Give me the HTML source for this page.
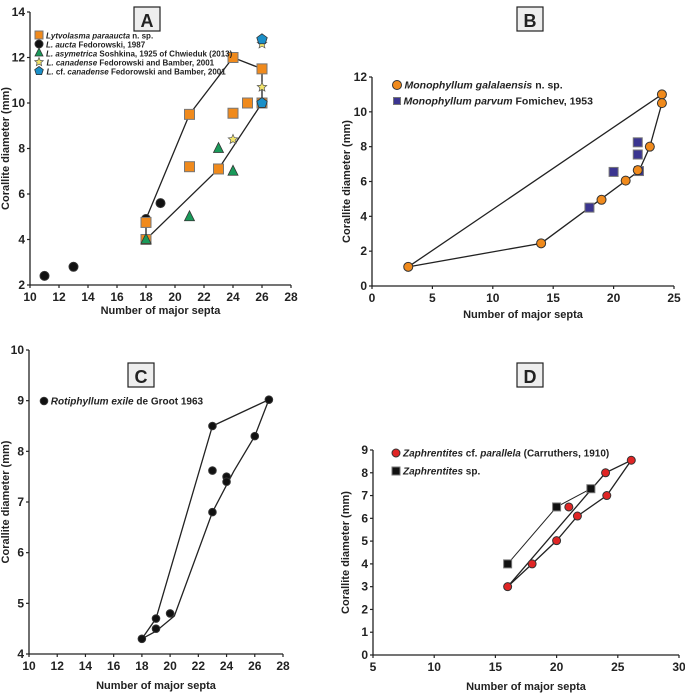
<!DOCTYPE html>
<html><head><meta charset="utf-8">
<style>
body{margin:0;background:#fff;}
svg{display:block;font-family:"Liberation Sans",sans-serif;}
text{font-weight:bold;fill:#222;}
</style></head>
<body>
<svg id="c" width="685" height="697" viewBox="0 0 685 697" xmlns="http://www.w3.org/2000/svg"></svg>
<script>
// Panel A data
const aXTicks=[10,12,14,16,18,20,22,24,26,28];
const aYTicks=[2,4,6,8,10,12,14];
const aSqX=[18,18,21,21,23,24,24,25,26,26];
const aSqY=[4.75,4,9.5,7.2,7.1,12,9.55,10,11.5,10];
const aCirX=[11,13,18,19];
const aCirY=[2.4,2.8,4.9,5.6];
const aTriX=[18,21,23,24];
const aTriY=[4,5,8,7];
const aStarX=[24,26,26];
const aStarY=[8.4,10.7,12.6];
const aPentX=[26,26];
const aPentY=[12.8,10];
const aHullX=[18,21,24,26,26,23,18,18];
const aHullY=[4.9,9.5,12,11.5,10,7.1,4,4.75];
// Panel B data
const bXTicks=[0,5,10,15,20,25];
const bYTicks=[0,2,4,6,8,10,12];
const bCirX=[3,14,19,21,22,23,24,24];
const bCirY=[1.1,2.45,4.95,6.05,6.65,8,11,10.5];
const bSqX=[18,20,22,22,22.1];
const bSqY=[4.5,6.55,8.25,7.55,6.6];
const bHullX=[3,24,24,23,22.1,14];
const bHullY=[1.1,11,10.5,8,6.6,2.45];
// Panel C data
const cXTicks=[10,12,14,16,18,20,22,24,26,28];
const cYTicks=[4,5,6,7,8,9,10];
const cCirX=[18,19,19,20,23,23,23,24,24,26,27];
const cCirY=[4.3,4.7,4.5,4.8,8.5,7.62,6.8,7.5,7.4,8.3,9.02];
const cHullX=[18,19,23,27,26,24.5,23,20.3,19];
const cHullY=[4.3,4.7,8.5,9.02,8.3,7.6,6.8,4.75,4.45];
// Panel D data
const dXTicks=[5,10,15,20,25,30];
const dYTicks=[0,1,2,3,4,5,6,7,8,9];
const dCirX=[16,18,20,21,21.7,24,24.1,26.1];
const dCirY=[3,4,5.02,6.5,6.1,8,7,8.55];
const dSqX=[16,20,22.8];
const dSqY=[4,6.5,7.3];
const dHullX=[16,24,26.1,24.1,21.7,20,18];
const dHullY=[3,8,8.55,7,6.1,5.02,4];

const svg=document.getElementById('c');
const NS='http://www.w3.org/2000/svg';
function el(tag,attrs,parent){const e=document.createElementNS(NS,tag);for(const k in attrs)e.setAttribute(k,attrs[k]);(parent||svg).appendChild(e);return e;}
function txt(x,y,s,size,anchor,parent){const t=el('text',{x:x,y:y,'font-size':size,'text-anchor':anchor||'middle'},parent);t.textContent=s;return t;}

function axes(p){
  const g=el('g',{});
  
  
  const sx=v=>p.x0+(v-p.xmin)/(p.xmax-p.xmin)*(p.x1-p.x0);
  const sy=v=>p.y0-(v-p.ymin)/(p.ymax-p.ymin)*(p.y0-p.y1);
  el('line',{x1:p.x0,y1:p.y0,x2:p.x1,y2:p.y0,stroke:'#222','stroke-width':1.3},g);
  el('line',{x1:p.x0,y1:p.y0,x2:p.x0,y2:p.y1,stroke:'#222','stroke-width':1.3},g);
  p.xt.forEach(v=>{el('line',{x1:sx(v),y1:p.y0,x2:sx(v),y2:p.y0+3,stroke:'#222','stroke-width':1.2},g);
    txt(sx(v),p.y0+16,String(v),12,'middle',g);});
  p.yt.forEach(v=>{el('line',{x1:p.x0-3,y1:sy(v),x2:p.x0,y2:sy(v),stroke:'#222','stroke-width':1.2},g);
    txt(p.x0-5,sy(v)+4,String(v),12,'end',g);});
  const xl=txt((p.x0+p.x1)/2,p.xlY,'Number of major septa',11,'middle',g);
  
  
  const yl=txt(0,0,'Corallite diameter (mm)',11,'middle',g);
  yl.setAttribute('transform','translate('+p.ylX+','+((p.y0+p.y1)/2)+') rotate(-90)');
  
  
  el('rect',{x:p.tx-13,y:p.ty-13,width:26,height:24,fill:'#eee',stroke:'#222','stroke-width':1.2},g);
  const tt=txt(p.tx,p.ty+7,p.title,18,'middle',g);
  
  
  return {sx,sy};
}
function hull(s,xs,ys,name,w){
  const pts=xs.map((x,i)=>s.sx(x)+','+s.sy(ys[i])).join(' ');
  const e=el('polygon',{points:pts,fill:'none',stroke:'#222','stroke-width':w||1.3});
  
  
}
function line(s,xs,ys,name){
  const pts=xs.map((x,i)=>s.sx(x)+','+s.sy(ys[i])).join(' ');
  const e=el('polyline',{points:pts,fill:'none',stroke:'#222','stroke-width':1});
  
  
}
function marker(type,cx,cy,fill,r){
  let e;
  if(type==='circle') e=el('circle',{cx:cx,cy:cy,r:r,fill:fill,stroke:'#333','stroke-width':1});
  else if(type==='square') e=el('rect',{x:cx-r,y:cy-r,width:2*r,height:2*r,fill:fill,stroke:'#777','stroke-width':1});
  else if(type==='tri') e=el('polygon',{points:(cx)+','+(cy-r-1)+' '+(cx-r)+','+(cy+r-1)+' '+(cx+r)+','+(cy+r-1),fill:fill,stroke:'#333','stroke-width':0.8});
  else if(type==='star'){let p=[];for(let i=0;i<10;i++){const a=-Math.PI/2+i*Math.PI/5;const rr=i%2?r*0.45:r;p.push((cx+rr*Math.cos(a))+','+(cy+rr*Math.sin(a)));}
    e=el('polygon',{points:p.join(' '),fill:fill,stroke:'#555','stroke-width':0.7});}
  else if(type==='pent'){let p=[];for(let i=0;i<5;i++){const a=-Math.PI/2+i*2*Math.PI/5;p.push((cx+r*Math.cos(a))+','+(cy+r*Math.sin(a)));}
    e=el('polygon',{points:p.join(' '),fill:fill,stroke:'#333','stroke-width':0.8});}
  return e;
}
function series(s,xs,ys,type,fill,r,name){
  xs.forEach((x,i)=>{const m=marker(type,s.sx(x),s.sy(ys[i]),fill,r);
    
    });
}
function legend(x,y,type,fill,r,parts,name){
  const m=marker(type,x,y,fill,r);
  
  
  const t=el('text',{x:x+r+3,y:y+3.5,'font-size':parts.size||9.5,'text-anchor':'start'});
  
  
  parts.t.forEach(p=>{const ts=el('tspan',{},t);if(p[1])ts.setAttribute('font-style','italic');ts.textContent=p[0];});
}

const OR='#f08a1c';
// Panel A
const sA=axes({name:'panel-a',x0:30,x1:291,y0:285,y1:12,xmin:10,xmax:28,ymin:2,ymax:14,xt:aXTicks,yt:aYTicks,xlY:314,ylX:9,title:'A',tx:147,ty:20});
hull(sA,aHullX,aHullY,'panel-a-range-polygon');
series(sA,aCirX,aCirY,'circle','#111',4.5,'panel-a-aucta-point');
series(sA,aSqX,aSqY,'square',OR,5,'panel-a-paraaucta-point');
series(sA,aTriX,aTriY,'tri','#1a9a5a',5,'panel-a-asymetrica-point');
series(sA,aStarX,aStarY,'star','#f3e56a',5,'panel-a-canadense-point');
series(sA,aPentX,aPentY,'pent','#1a8fc8',5.5,'panel-a-cf-canadense-point');
legend(39,35,'square',OR,4,{t:[['Lytvolasma paraaucta',1],[' n. sp.',0]],size:8},'legend-paraaucta');
legend(39,44,'circle','#111',4,{t:[['L. aucta',1],[' Fedorowski, 1987',0]],size:8},'legend-aucta');
legend(39,53,'tri','#1a9a5a',4,{t:[['L. asymetrica',1],[' Soshkina,  1925 of Chwieduk (2013)',0]],size:8},'legend-asymetrica');
legend(39,62,'star','#f3e56a',4.5,{t:[['L. canadense',1],[' Fedorowski and Bamber, 2001',0]],size:8},'legend-canadense');
legend(39,71,'pent','#1a8fc8',4.5,{t:[['L.',1],[' cf. ',0],['canadense',1],[' Fedorowski and Bamber, 2001',0]],size:8},'legend-cf-canadense');

// Panel B
const sB=axes({name:'panel-b',x0:372,x1:674,y0:286,y1:77,xmin:0,xmax:25,ymin:0,ymax:12,xt:bXTicks,yt:bYTicks,xlY:318,ylX:350,title:'B',tx:530,ty:20});
hull(sB,bHullX,bHullY,'panel-b-range-polygon');
series(sB,bSqX,bSqY,'square','#3b3590',4.5,'panel-b-parvum-point');
series(sB,bCirX,bCirY,'circle',OR,4.5,'panel-b-galalaensis-point');
legend(397,85,'circle',OR,4.5,{t:[['Monophyllum galalaensis',1],[' n. sp.',0]],size:10.5},'legend-galalaensis');
legend(397,101,'square','#3b3590',3.5,{t:[['Monophyllum parvum',1],[' Fomichev, 1953',0]],size:10.5},'legend-parvum');

// Panel C
const sC=axes({name:'panel-c',x0:29,x1:283,y0:654,y1:350,xmin:10,xmax:28,ymin:4,ymax:10,xt:cXTicks,yt:cYTicks,xlY:689,ylX:9,title:'C',tx:141,ty:376});
hull(sC,cHullX,cHullY,'panel-c-range-polygon');
series(sC,cCirX,cCirY,'circle','#111',3.8,'panel-c-exile-point');
legend(44,401,'circle','#111',3.8,{t:[['Rotiphyllum exile',1],[' de Groot 1963',0]],size:10},'legend-exile');

// Panel D
const sD=axes({name:'panel-d',x0:373,x1:679,y0:655,y1:450,xmin:5,xmax:30,ymin:0,ymax:9,xt:dXTicks,yt:dYTicks,xlY:690,ylX:349,title:'D',tx:530,ty:376});
hull(sD,dHullX,dHullY,'panel-d-parallela-polygon');
line(sD,dSqX,dSqY,'panel-d-sp-line');
series(sD,dCirX,dCirY,'circle','#e02525',4,'panel-d-parallela-point');
series(sD,dSqX,dSqY,'square','#111',4,'panel-d-sp-point');
legend(396,453,'circle','#e02525',4,{t:[['Zaphrentites',1],[' cf. ',0],['parallela',1],[' (Carruthers, 1910)',0]],size:10},'legend-parallela');
legend(396,471,'square','#111',4,{t:[['Zaphrentites',1],[' sp.',0]],size:10},'legend-zaphrentites-sp');
</script>
</body></html>
